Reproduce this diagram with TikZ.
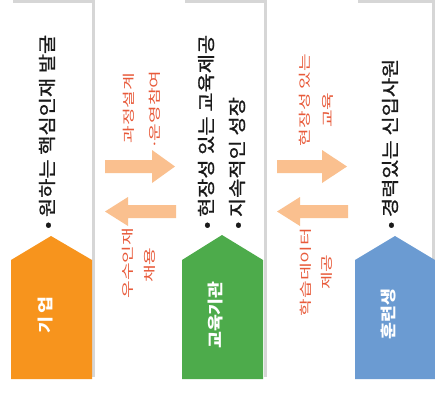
\documentclass[tikz,border=0pt]{standalone}
\usepackage{graphicx}
\usepackage{fontspec}
\setmainfont{Noto Sans CJK KR}
\newfontfamily\krsemi[FakeBold=0.9]{Noto Sans CJK KR}
\definecolor{shadowgray}{HTML}{D6D6D6}
\definecolor{corporg}{HTML}{F7941D}
\definecolor{edugreen}{HTML}{4DAB4B}
\definecolor{trainblue}{HTML}{6B9BD2}
\definecolor{arrowpeach}{HTML}{FAC08F}
\definecolor{labelred}{HTML}{E85A3A}
\definecolor{maintextcol}{HTML}{1A1A1A}
\newcommand{\mainstr}[1]{\scalebox{1.16}[1]{#1}}
\newcommand{\labstr}[1]{\scalebox{1.2}[0.78]{#1}}
\newcommand{\tagstr}[1]{\scalebox{1.15}[1]{#1}}
\tikzset{
  maintext/.style={rotate=90, anchor=west, inner sep=0pt, text=maintextcol,
    font=\krsemi\fontsize{18}{20}\selectfont},
  arrowlabel/.style={rotate=90, inner sep=0pt, text=labelred,
    font=\fontsize{16}{18}\selectfont},
  tagtext/.style={rotate=90, inner sep=0pt, text=white,
    font=\bfseries\fontsize{16}{18}\selectfont},
  panelshadow/.style={fill=shadowgray},
  panelbody/.style={fill=white},
  blockarrow/.style={fill=arrowpeach}
}
\begin{document}
\begin{tikzpicture}[x=1pt,y=-1pt]
\useasboundingbox (0,0) rectangle (435,392);
\fill[white] (0,0) rectangle (435,392);
% panels
\fill[panelshadow] (13,0) rectangle (94.5,377);
\fill[panelbody] (10,3) rectangle (91.5,380);
\fill[panelshadow] (185,0) rectangle (267,377);
\fill[panelbody] (182,3) rectangle (264,380);
\fill[panelshadow] (358,0) rectangle (434.5,377);
\fill[panelbody] (355,3) rectangle (432,380);
% tags
\fill[corporg] (11,379) -- (11,260) -- (51,236) -- (92,260) -- (92,379) -- cycle;
\fill[edugreen] (182,379) -- (182,260) -- (222,235) -- (263,260) -- (263,379) -- cycle;
\fill[trainblue] (355,379) -- (355,260) -- (395,236) -- (435,260) -- (435,379) -- cycle;
\node[tagtext] (tag1) at (45,315) {\tagstr{기\hspace{3pt}업}};
\node[tagtext] (tag2) at (216,315) {\tagstr{교육기관}};
\node[tagtext] (tag3) at (389,314) {\tagstr{훈련생}};
% main texts
\node[maintext] (t1) at (47,229) {\mainstr{• 원하는 핵심인재 발굴}};
\node[maintext] (t2) at (206,229) {\mainstr{• 현장성 있는 교육제공}};
\node[maintext] (t3) at (237,229) {\mainstr{• 지속적인 성장}};
\node[maintext] (t4) at (390,229) {\mainstr{• 경력있는 신입사원}};
% arrows
\fill[blockarrow] (105,160) -- (152,160) -- (152,150) -- (175,166.5) -- (152,183) -- (152,173) -- (105,173) -- cycle;
\fill[blockarrow] (176,205) -- (128,205) -- (128,197) -- (105,211.5) -- (128,226) -- (128,218) -- (176,218) -- cycle;
\fill[blockarrow] (277,160) -- (322,160) -- (322,150) -- (347,166.5) -- (322,183) -- (322,173) -- (277,173) -- cycle;
\fill[blockarrow] (348,205) -- (300,205) -- (300,197) -- (277,211.5) -- (300,226) -- (300,218) -- (348,218) -- cycle;
% arrow labels
\node[arrowlabel] (l1a) at (129,108) {\labstr{과정설계}};
\node[arrowlabel] (l1b) at (155,110) {\labstr{·\kern-2pt 운영참여}};
\node[arrowlabel] (l2a) at (128,263) {\labstr{우수인재}};
\node[arrowlabel] (l2b) at (150,265) {\labstr{채용}};
\node[arrowlabel] (l3a) at (305,100) {\labstr{현장성 있는}};
\node[arrowlabel] (l3b) at (328,110) {\labstr{교육}};
\node[arrowlabel] (l4a) at (306,272) {\labstr{학습데이터}};
\node[arrowlabel] (l4b) at (327,272) {\labstr{제공}};
\end{tikzpicture}
\end{document}
